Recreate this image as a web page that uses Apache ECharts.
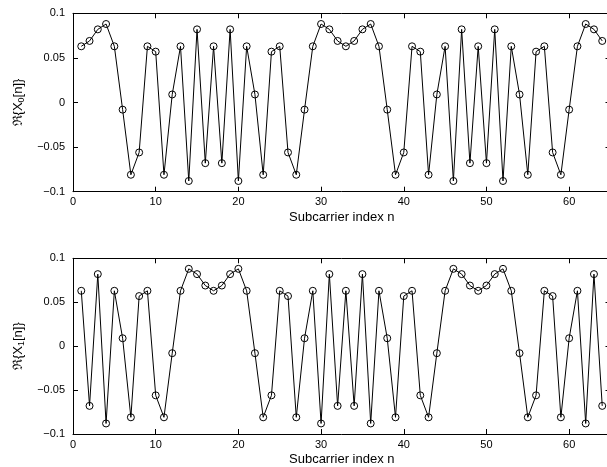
<!DOCTYPE html>
<html>
<head>
<meta charset="utf-8">
<script src="https://cdn.jsdelivr.net/npm/echarts@6/dist/echarts.min.js"></script>
<style>
  html, body { margin: 0; padding: 0; background: #fff; overflow: hidden; }
  #main { width: 620px; height: 467px; }
</style>
</head>
<body>
<div id="main"></div>
<script>
// subcarrier index n
const subcarrier = [1, 2, 3, 4, 5, 6, 7, 8, 9, 10, 11, 12, 13, 14, 15, 16,
  17, 18, 19, 20, 21, 22, 23, 24, 25, 26, 27, 28, 29, 30, 31, 32,
  33, 34, 35, 36, 37, 38, 39, 40, 41, 42, 43, 44, 45, 46, 47, 48,
  49, 50, 51, 52, 53, 54, 55, 56, 57, 58, 59, 60, 61, 62, 63, 64];

// Re{X0[n]}
const x0Values = [0.063, 0.069, 0.082, 0.088, 0.063, -0.008, -0.081, -0.056,
  0.063, 0.057, -0.081, 0.009, 0.063, -0.088, 0.082, -0.068,
  0.063, -0.068, 0.082, -0.088, 0.063, 0.009, -0.081, 0.057,
  0.063, -0.056, -0.081, -0.008, 0.063, 0.088, 0.082, 0.069,
  0.063, 0.069, 0.082, 0.088, 0.063, -0.008, -0.081, -0.056,
  0.063, 0.057, -0.081, 0.009, 0.063, -0.088, 0.082, -0.068,
  0.063, -0.068, 0.082, -0.088, 0.063, 0.009, -0.081, 0.057,
  0.063, -0.056, -0.081, -0.008, 0.063, 0.088, 0.082, 0.069];

// Re{X1[n]}
const x1Values = [0.063, -0.068, 0.082, -0.088, 0.063, 0.009, -0.081, 0.057,
  0.063, -0.056, -0.081, -0.008, 0.063, 0.088, 0.082, 0.069,
  0.063, 0.069, 0.082, 0.088, 0.063, -0.008, -0.081, -0.056,
  0.063, 0.057, -0.081, 0.009, 0.063, -0.088, 0.082, -0.068,
  0.063, -0.068, 0.082, -0.088, 0.063, 0.009, -0.081, 0.057,
  0.063, -0.056, -0.081, -0.008, 0.063, 0.088, 0.082, 0.069,
  0.063, 0.069, 0.082, 0.088, 0.063, -0.008, -0.081, -0.056,
  0.063, 0.057, -0.081, 0.009, 0.063, -0.088, 0.082, -0.068];

const xRange = [0, 65];
const xTickStep = 10;
const yRange = [-0.1, 0.1];
const yTickStep = 0.05;
const xLabel = "Subcarrier index n";

const font = "'Liberation Sans', Arial, Helvetica, sans-serif";

function yLabelFmt(v) {
  const r = Number(v.toFixed(2));
  return String(r).replace("-", "\u2212");
}

function makeAxes(gridIndex, sub) {
  const line = { show: true, onZero: false, lineStyle: { color: "#000", width: 1 } };
  const tick = { show: true, inside: true, length: 5, lineStyle: { color: "#000" } };
  const xs = [
    {
      type: "value", gridIndex: gridIndex, position: "bottom",
      min: xRange[0], max: xRange[1], interval: xTickStep,
      axisLine: line, axisTick: tick, splitLine: { show: false },
      axisLabel: { color: "#000", fontSize: 11, fontFamily: font, margin: 5,
        showMaxLabel: false },
      name: xLabel, nameLocation: "middle", nameGap: 19,
      nameTextStyle: { color: "#000", fontSize: 13, fontFamily: font }
    },
    {
      type: "value", gridIndex: gridIndex, position: "top",
      min: xRange[0], max: xRange[1], interval: xTickStep,
      axisLine: line, axisTick: tick, splitLine: { show: false },
      axisLabel: { show: false }
    }
  ];
  const ys = [
    {
      type: "value", gridIndex: gridIndex, position: "left",
      min: yRange[0], max: yRange[1], interval: yTickStep,
      axisLine: line, axisTick: tick, splitLine: { show: false },
      axisLabel: { color: "#000", fontSize: 11, fontFamily: font, margin: 8,
        formatter: yLabelFmt },
      name: "{a|\u211C{X}{s|" + sub + "}{a|[n]}}",
      nameLocation: "middle", nameGap: 45, nameRotate: 90,
      nameTextStyle: {
        color: "#000", fontSize: 13, fontFamily: font,
        rich: {
          a: { fontSize: 13, fontFamily: font, color: "#000", lineHeight: 16 },
          s: { fontSize: 9, fontFamily: font, color: "#000", lineHeight: 9,
            verticalAlign: "bottom" }
        }
      }
    },
    {
      type: "value", gridIndex: gridIndex, position: "right",
      min: yRange[0], max: yRange[1], interval: yTickStep,
      axisLine: line, axisTick: tick, splitLine: { show: false },
      axisLabel: { show: false }
    }
  ];
  return { xs: xs, ys: ys };
}

const a0 = makeAxes(0, "0");
const a1 = makeAxes(1, "1");

function pairs(vals) {
  return subcarrier.map(function (n, i) { return [n, vals[i]]; });
}

function lineSeries(vals, axisIdx) {
  return {
    type: "line",
    xAxisIndex: axisIdx, yAxisIndex: axisIdx,
    data: pairs(vals),
    symbol: "circle", symbolSize: 7,
    showAllSymbol: true,
    lineStyle: { color: "#000", width: 1 },
    itemStyle: { color: "rgba(255,255,255,0)", borderColor: "#000", borderWidth: 1 },
    animation: false, silent: true
  };
}

const chart = echarts.init(document.getElementById("main"));
const option = {
  backgroundColor: "#fff",
  animation: false,
  grid: [
    { left: 73, top: 13.3, width: 537.5, height: 178.4 },
    { left: 73, top: 258.3, width: 537.5, height: 178.4 }
  ],
  xAxis: a0.xs.concat(a1.xs),
  yAxis: a0.ys.concat(a1.ys),
  series: [
    lineSeries(x0Values, 0),
    lineSeries(x1Values, 2)
  ]
};
chart.setOption(option);
</script>
</body>
</html>
